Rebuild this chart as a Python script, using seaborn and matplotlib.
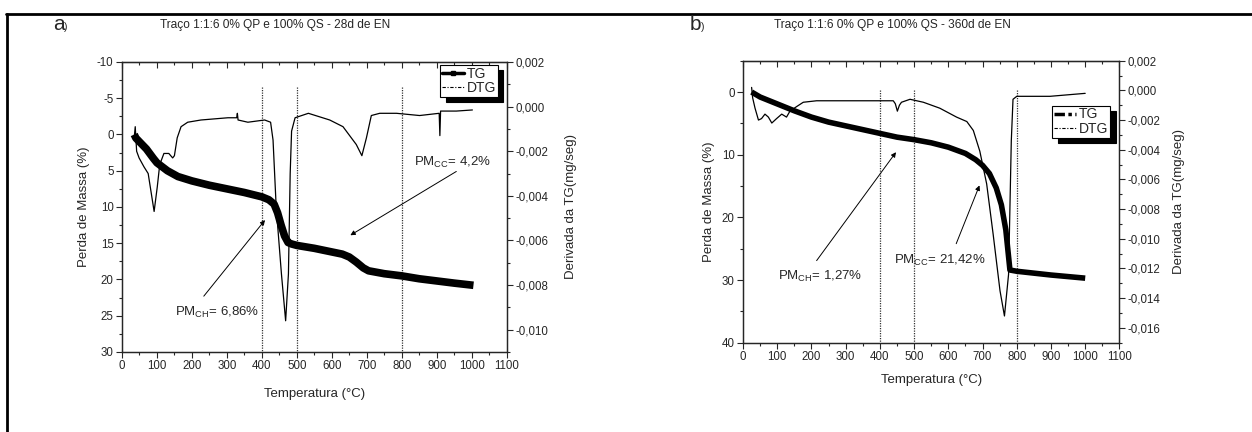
import numpy as np
import pandas as pd
import matplotlib
matplotlib.use("Agg")
import matplotlib.pyplot as plt
from matplotlib.lines import Line2D
from matplotlib.ticker import MultipleLocator, FuncFormatter
import seaborn as sns

sns.set_style("ticks")
plt.rcParams["font.family"] = ["Liberation Sans", "DejaVu Sans"]
plt.rcParams["mathtext.fontset"] = "custom"
plt.rcParams["mathtext.rm"] = "Liberation Sans"
plt.rcParams["axes.unicode_minus"] = False

# ---------------- data: panel a (28 d) ----------------
temp_tg_a = [35, 40, 50, 70, 90, 100, 130, 160, 200, 250, 300, 350, 400, 420, 435, 445,
             455, 465, 475, 485, 500, 550, 600, 630, 650, 670, 690, 705, 750, 800, 850, 900, 950, 1005]
tg_a = [0.0, 0.5, 1.0, 2.0, 3.3, 3.9, 5.0, 5.8, 6.4, 7.0, 7.5, 8.0, 8.6, 9.0, 9.6, 10.8,
        12.5, 14.0, 14.9, 15.1, 15.3, 15.7, 16.2, 16.5, 16.9, 17.6, 18.4, 18.8, 19.2, 19.5, 19.9, 20.2, 20.5, 20.8]

temp_dtg_a = [35, 38, 42, 49, 63, 75, 84, 92, 101, 108, 120, 134, 145, 150, 158, 169, 188, 226,
              303, 328, 330, 332, 360, 408, 425, 432, 441, 456, 468, 476, 481, 485, 495, 533,
              594, 632, 651, 670, 686, 699, 713, 737, 785, 851, 907, 909, 911, 956, 1002]
dtg_a = [-0.0014, -0.0009, -0.0020, -0.0023, -0.0027, -0.0030, -0.0039, -0.0047, -0.0036, -0.0026,
         -0.0021, -0.0021, -0.0023, -0.0022, -0.0014, -0.0009, -0.0007, -0.0006,
         -0.0005, -0.0005, -0.0003, -0.0006, -0.0007, -0.0006, -0.0007, -0.0015, -0.0045, -0.0075,
         -0.0096, -0.0075, -0.0030, -0.0011, -0.0005, -0.0003,
         -0.0006, -0.0009, -0.0013, -0.0017, -0.0022, -0.0014, -0.0004, -0.0003, -0.0003, -0.0004,
         -0.0003, -0.0013, -0.0002, -0.0002, -0.00015]

# ---------------- data: panel b (360 d) ----------------
temp_tg_b = [25, 50, 100, 150, 200, 250, 300, 350, 400, 450, 500, 550, 600, 650, 680, 700, 720,
             740, 755, 768, 780, 800, 900, 1000]
tg_b = [0.0, 0.8, 1.9, 3.0, 4.0, 4.8, 5.4, 6.0, 6.6, 7.2, 7.6, 8.1, 8.8, 9.8, 10.8, 11.7, 13.0,
        15.3, 18.0, 22.0, 28.4, 28.6, 29.2, 29.7]

temp_dtg_b = [25, 28, 35, 45, 54, 64, 74, 84, 98, 113, 127, 137, 156, 176, 215, 283, 381, 439,
              445, 451, 457, 463, 488, 527, 575, 624, 654, 673, 692, 712, 731, 751, 764, 776,
              784, 789, 800, 897, 1000]
dtg_b = [0.0002, -0.0005, -0.0012, -0.0020, -0.0019, -0.0016, -0.0018, -0.0022, -0.0019, -0.0016,
         -0.0018, -0.0014, -0.0011, -0.0008, -0.0007, -0.0007, -0.0007, -0.0007,
         -0.0009, -0.0014, -0.0010, -0.0008, -0.0006, -0.0008, -0.0012, -0.0018, -0.0021, -0.0027,
         -0.0041, -0.0063, -0.0097, -0.0135, -0.0152, -0.0124,
         -0.0034, -0.0006, -0.0004, -0.0004, -0.0002]

titles = ["Traço 1:1:6 0% QP e 100% QS - 28d de EN", "Traço 1:1:6 0% QP e 100% QS - 360d de EN"]
panel_letters = ["a", "b"]
vlines_x = [400, 500, 800]
vline_top = [-6.6, -0.3]
annot_a = [("PM$_{\\mathregular{CH}}$= 6,86%", (151, 24.6), (234, 22.3), (409, 11.8)),
           ("PM$_{\\mathregular{CC}}$= 4,2%", (834, 3.8), (956, 5.1), (653, 13.9))]
annot_b = [("PM$_{\\mathregular{CH}}$= 1,27%", (102, 29.5), (215, 26.9), (447, 9.6)),
           ("PM$_{\\mathregular{CC}}$= 21,42%", (441, 26.8), (623, 24.2), (691, 14.9))]

fig = plt.figure(figsize=(12.52, 4.32), dpi=100)

# figure frame (top and left lines)
fig.add_artist(Line2D([0.0048, 1.0], [0.9676, 0.9676], transform=fig.transFigure, color="black", lw=2.0))
fig.add_artist(Line2D([0.0052, 0.0052], [0.0, 0.9676], transform=fig.transFigure, color="black", lw=2.0))

ax_a = fig.add_axes([0.0974, 0.1852, 0.3073, 0.6713])
ax_b = fig.add_axes([0.5935, 0.2067, 0.3006, 0.6528])

comma_fmt = FuncFormatter(lambda v, p: ("%.3f" % (0.0 if abs(v) < 1e-9 else v)).replace(".", ","))

def setup(ax, ylim_l, lmaj, lmin, ylim_r, tg_x, tg_y, dtg_x, dtg_y, tg_lw, vtop, annots,
          leg_anchor, tg_handle, xpad, rpad):
    df_tg = pd.DataFrame({"T": tg_x, "TG": tg_y})
    df_dtg = pd.DataFrame({"T": dtg_x, "DTG": dtg_y})
    ax.vlines(vlines_x, vtop, ylim_l[0], colors="#333333", linestyles=(0, (1, 1)), lw=0.9)
    sns.lineplot(data=df_tg, x="T", y="TG", ax=ax, color="black", lw=tg_lw, errorbar=None,
                 solid_capstyle="butt")
    ax.set_xlim(0, 1100)
    ax.set_ylim(*ylim_l)
    ax.xaxis.set_major_locator(MultipleLocator(100))
    ax.xaxis.set_minor_locator(MultipleLocator(50))
    ax.yaxis.set_major_locator(MultipleLocator(lmaj))
    ax.yaxis.set_minor_locator(MultipleLocator(lmin))
    ax.tick_params(which="major", direction="out", length=4, width=0.8, labelsize=8.3, pad=2)
    ax.tick_params(which="minor", direction="out", length=2.5, width=0.8)
    ax.set_xlabel("Temperatura (°C)", fontsize=9.5, labelpad=xpad)
    ax.set_ylabel("Perda de Massa (%)", fontsize=9.5, labelpad=5)
    for s in ax.spines.values():
        s.set_linewidth(0.9)
    top = ax.secondary_xaxis("top")
    top.xaxis.set_major_locator(MultipleLocator(100))
    top.xaxis.set_minor_locator(MultipleLocator(50))
    top.tick_params(which="major", direction="in", length=4, width=0.8, labeltop=False)
    top.tick_params(which="minor", direction="in", length=2.5, width=0.8)

    for txt, tpos, a0, a1 in annots:
        ax.text(tpos[0], tpos[1], txt, fontsize=9.5, va="center", ha="left")
        ax.annotate("", xy=a1, xytext=a0,
                    arrowprops=dict(arrowstyle="-|>", color="black", lw=0.7,
                                    mutation_scale=7, shrinkA=0, shrinkB=0))

    tw = ax.twinx()
    sns.lineplot(data=df_dtg, x="T", y="DTG", ax=tw, color="black", lw=0.9, errorbar=None)
    tw.set_ylim(*ylim_r)
    tw.yaxis.set_major_locator(MultipleLocator(0.002))
    tw.yaxis.set_minor_locator(MultipleLocator(0.001))
    tw.yaxis.set_major_formatter(comma_fmt)
    tw.tick_params(which="major", direction="out", length=4, width=0.8, labelsize=8.3, pad=2)
    tw.tick_params(which="minor", direction="out", length=2.5, width=0.8)
    tw.set_ylabel("Derivada da TG(mg/seg)", fontsize=9.5, labelpad=rpad)
    tw.set_xlabel("")
    for s in tw.spines.values():
        s.set_linewidth(0.9)

    handles = [tg_handle, Line2D([], [], color="black", lw=0.8, ls=(0, (3, 1.5, 1, 1.5)))]
    leg = tw.legend(handles, ["TG", "DTG"], loc="upper right", bbox_to_anchor=leg_anchor,
                    frameon=True, fancybox=False, framealpha=1, edgecolor="black",
                    shadow={"color": "black", "alpha": 1, "ox": 4, "oy": -4},
                    fontsize=10, handlelength=1.6, handletextpad=0.2, labelspacing=0.05,
                    borderpad=0.12, borderaxespad=0)
    leg.get_frame().set_linewidth(0.8)
    return tw

tg_handle_a = Line2D([], [], color="black", lw=2.5, marker="s", markersize=3.5)
tg_handle_b = Line2D([], [], color="black", lw=2.5, ls=(0, (3, 1, 1, 1)))

setup(ax_a, (30, -10), 5, 2.5, (-0.011, 0.002), temp_tg_a, tg_a, temp_dtg_a, dtg_a, 5.5,
      vline_top[0], annot_a, (0.977, 0.99), tg_handle_a, 11, 12)
setup(ax_b, (40, -5), 10, 5, (-0.017, 0.002), temp_tg_b, tg_b, temp_dtg_b, dtg_b, 4.0,
      vline_top[1], annot_b, (0.975, 0.84), tg_handle_b, 8, 9)

# titles and panel letters
fig.text(275 / 1252, 1 - 25 / 432, titles[0], fontsize=8.6, ha="center", va="center")
fig.text(892 / 1252, 1 - 25 / 432, titles[1], fontsize=8.6, ha="center", va="center")
fig.text(53 / 1252, 1 - 25 / 432, "a", fontsize=15, ha="left", va="center")
fig.text(64 / 1252, 1 - 27 / 432, ")", fontsize=7.5, ha="left", va="center")
fig.text(690 / 1252, 1 - 25 / 432, "b", fontsize=15, ha="left", va="center")
fig.text(701 / 1252, 1 - 27 / 432, ")", fontsize=7.5, ha="left", va="center")

fig.savefig("out.png", dpi=100)
